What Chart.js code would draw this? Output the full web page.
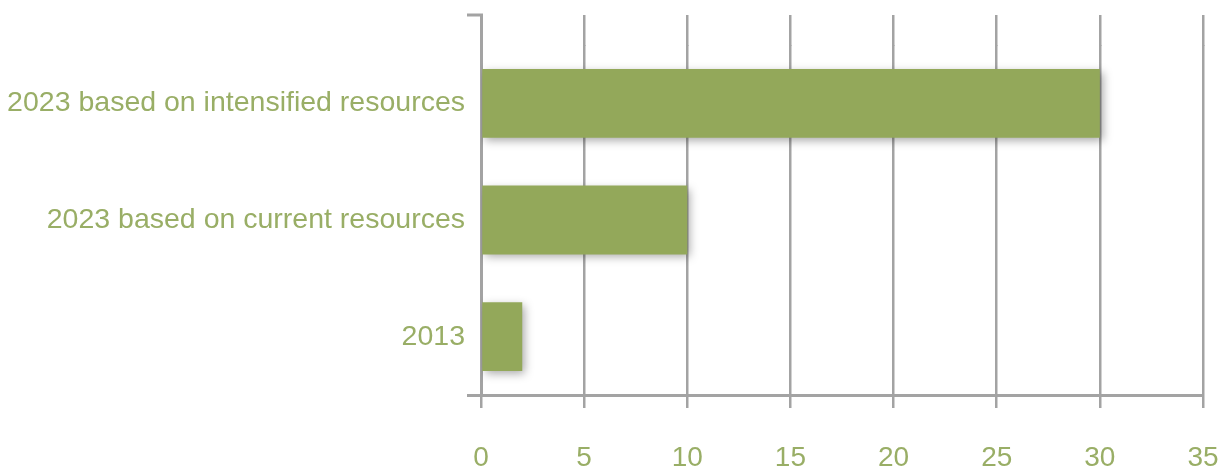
<!DOCTYPE html>
<html>
<head>
<meta charset="utf-8">
<script src="https://cdn.jsdelivr.net/npm/chart.js@4"></script>
<style>
    html, body { margin: 0; padding: 0; background: #ffffff; }
    #wrap { width: 1225px; height: 468px; }
</style>
</head>
<body>
<div id="wrap"><canvas id="barChart" width="1225" height="468"></canvas></div>
<script>
// Datos del gráfico
const categorias = ['2023 based on intensified resources', '2023 based on current resources', '2013'];
const valores = [30, 10, 2];
const ejeMin = 0;
const ejeMax = 35;
const ejePaso = 5;

const verde = '#93a85a';
const textoVerde = '#99ae66';
const gris = '#a3a3a3';
const fuente = '"Liberation Sans", Arial, sans-serif';
const grosorGrilla = 2.5;

// Igual que el alineado de pixeles de Chart.js
function alinear(p, w) {
    return Math.round(p - w / 2) + w / 2;
}

// Sombra de las barras
const sombraBarras = {
    id: 'sombraBarras',
    beforeDatasetDraw(chart) {
        const ctx = chart.ctx;
        ctx.save();
        ctx.shadowColor = 'rgba(0, 0, 0, 0.35)';
        ctx.shadowBlur = 9;
        ctx.shadowOffsetX = 3;
        ctx.shadowOffsetY = 3;
    },
    afterDatasetDraw(chart) {
        chart.ctx.restore();
    }
};

// Extiende la grilla por encima del área y las marcas del eje
const extensionEjes = {
    id: 'extensionEjes',
    beforeDatasetsDraw(chart) {
        const { ctx, chartArea, scales } = chart;
        const arriba = chartArea.top - 30;
        ctx.save();
        ctx.strokeStyle = gris;
        ctx.lineWidth = grosorGrilla;
        for (let v = ejeMin; v <= ejeMax; v += ejePaso) {
            const x = alinear(scales.x.getPixelForValue(v), grosorGrilla);
            ctx.beginPath();
            ctx.moveTo(x, arriba);
            ctx.lineTo(x, chartArea.top + 1);
            ctx.stroke();
        }
        ctx.lineWidth = 3;
        const x0 = alinear(chartArea.left, 3);
        ctx.beginPath();
        ctx.moveTo(x0, arriba);
        ctx.lineTo(x0, chartArea.top + 1);
        ctx.moveTo(chartArea.left - 14, arriba);
        ctx.lineTo(x0 + 1.5, arriba);
        ctx.moveTo(chartArea.left - 14, alinear(chartArea.bottom, 3));
        ctx.lineTo(chartArea.left, alinear(chartArea.bottom, 3));
        ctx.stroke();
        ctx.restore();
    }
};

const ctx = document.getElementById('barChart').getContext('2d');
new Chart(ctx, {
    type: 'bar',
    data: {
        labels: categorias,
        datasets: [{
            data: valores,
            backgroundColor: verde,
            borderWidth: 0,
            barPercentage: 0.59,
            categoryPercentage: 1
        }]
    },
    options: {
        indexAxis: 'y',
        responsive: false,
        animation: false,
        devicePixelRatio: 1,
        layout: {
            padding: { top: 45, right: 22, left: 0, bottom: 0 }
        },
        scales: {
            x: {
                min: ejeMin,
                max: ejeMax,
                ticks: {
                    stepSize: ejePaso,
                    color: textoVerde,
                    font: { family: fuente, size: 28 },
                    padding: 33,
                    maxRotation: 0
                },
                grid: {
                    color: gris,
                    lineWidth: grosorGrilla,
                    tickLength: 13
                },
                border: {
                    display: true,
                    color: gris,
                    width: 3
                },
                afterFit(scale) {
                    scale.height = 73;
                    scale.paddingLeft = 0;
                    scale.paddingRight = 0;
                }
            },
            y: {
                ticks: {
                    color: textoVerde,
                    font: { family: fuente, size: 28.5 },
                    padding: 16
                },
                grid: { display: false, drawTicks: false },
                border: {
                    display: true,
                    color: gris,
                    width: 3
                },
                afterFit(scale) {
                    scale.width = 481;
                    scale.paddingTop = 0;
                    scale.paddingBottom = 0;
                }
            }
        },
        plugins: {
            legend: { display: false },
            tooltip: { enabled: false }
        }
    },
    plugins: [sombraBarras, extensionEjes]
});
</script>
</body>
</html>
